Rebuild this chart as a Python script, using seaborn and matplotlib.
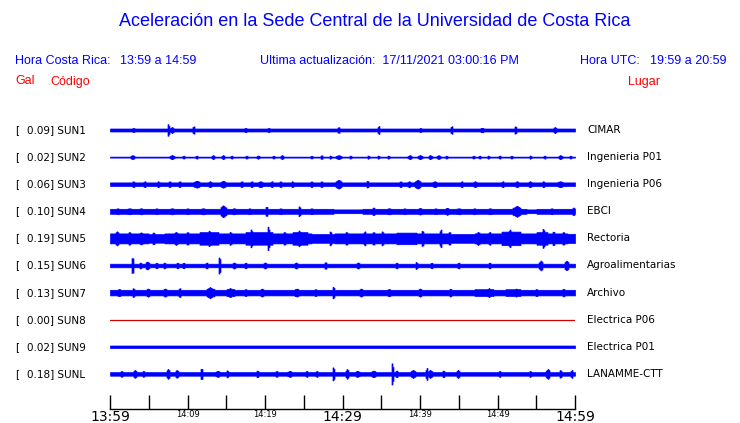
import numpy as np
import pandas as pd
import matplotlib
matplotlib.use("Agg")
import matplotlib.pyplot as plt
import seaborn as sns

# ---------------- data ----------------
codes = ["SUN1", "SUN2", "SUN3", "SUN4", "SUN5", "SUN6", "SUN7", "SUN8", "SUN9", "SUNL"]
peak_gal = [0.09, 0.02, 0.06, 0.10, 0.19, 0.15, 0.13, 0.00, 0.02, 0.18]
places = ["CIMAR", "Ingenieria P01", "Ingenieria P06", "EBCI", "Rectoria",
          "Agroalimentarias", "Archivo", "Electrica P06", "Electrica P01", "LANAMME-CTT"]

# base half-amplitude of each trace (arbitrary units)
base_amp = [1.5, 0.5, 1.8, 2.5, 5.0, 1.8, 2.8, 0.0, 1.3, 1.8]

# segments of different background level: (start min, end min, amplitude)
seg_sun4 = [(28.8, 32.6, 1.9), (53.7, 55.0, 1.9)]
seg_sun5 = [(11.5, 14.0, 6.3), (17.5, 21.0, 6.3), (23.5, 25.5, 6.3), (37.0, 39.5, 5.8),
            (50.5, 53.0, 6.8), (55.0, 56.5, 6.3), (5.0, 7.0, 4.3), (26.0, 29.0, 4.4),
            (44.0, 47.0, 4.4), (59.0, 60.0, 4.6)]
seg_sun7 = [(12.5, 13.5, 3.8), (15.0, 16.0, 3.5), (47.0, 49.5, 3.4), (51.0, 53.0, 3.4)]
segments = [[], [], [], seg_sun4, seg_sun5, [], seg_sun7, [], [], []]

# bursts: (minute after 13:59, half amplitude, duration in minutes)
bur_sun1 = [(7.5, 6, 0.15), (8.0, 3, 0.15), (10.8, 4, 0.15), (17.5, 2.2, 0.3), (29.5, 3, 0.3),
            (34.7, 4, 0.2), (44.1, 4, 0.3), (52.3, 4, 0.15), (57.4, 3, 0.3), (3.0, 2, 0.2),
            (20.5, 2, 0.2), (40.0, 2, 0.2), (48.0, 2.2, 0.3)]
bur_sun2 = [(2.9, 2, 0.6), (8.0, 2, 0.6), (9.5, 1.6, 0.15), (11.2, 1.6, 0.15), (13.3, 2, 0.4),
            (14.6, 2, 0.4), (15.7, 1.6, 0.15), (17.6, 1.6, 0.3), (19.1, 1.6, 0.3), (21.1, 1.6, 0.15),
            (22.2, 2, 0.4), (26.0, 1.6, 0.15), (27.3, 2, 0.3), (28.4, 1.6, 0.15), (29.5, 2, 0.8),
            (31.0, 1.6, 0.15), (33.3, 1.6, 0.15), (34.6, 1.6, 0.15), (35.9, 1.6, 0.15),
            (38.7, 2, 0.5), (40.0, 2, 0.6), (41.3, 2, 0.5), (42.4, 2, 0.5), (43.4, 1.6, 0.15),
            (46.9, 1.6, 0.15), (47.7, 1.6, 0.15), (48.8, 1.6, 0.15), (50.3, 1.6, 0.3),
            (51.8, 1.6, 0.15), (54.2, 1.6, 0.15), (56.1, 1.6, 0.15), (58.1, 2, 0.5), (59.4, 1.6, 0.15)]
bur_sun3 = [(3.0, 3, 0.15), (4.5, 3, 0.15), (6.2, 3, 0.15), (7.7, 3, 0.3), (9.0, 3, 0.3),
            (11.2, 3.5, 0.8), (12.9, 3, 0.3), (14.6, 3.5, 0.6), (17.0, 3, 0.3), (18.3, 3, 0.3),
            (19.4, 3, 0.6), (20.9, 3, 0.15), (22.0, 3, 0.3), (23.5, 3, 0.15), (26.0, 3, 0.15),
            (27.3, 3, 0.3), (29.5, 4.5, 0.8), (33.2, 3.5, 0.3), (37.5, 3, 0.15), (38.6, 3, 0.3),
            (39.7, 4.5, 0.8), (41.9, 3, 0.5), (45.4, 3, 0.15), (47.1, 3, 0.3), (50.7, 3, 0.15),
            (52.5, 3, 0.3), (54.2, 3, 0.3), (55.9, 3, 0.3), (58.1, 3, 0.6)]
bur_sun4 = [(14.6, 6, 0.8), (20.2, 5, 0.3), (24.4, 5, 0.2), (34.0, 4, 0.3), (43.5, 3.5, 0.3),
            (52.5, 5.5, 1.0), (59.8, 4, 0.2), (1.0, 3, 0.3), (2.5, 3, 0.5), (4.0, 3, 0.2),
            (6.0, 3, 0.3), (8.0, 3, 0.4), (10.0, 3, 0.2), (12.0, 3, 0.5), (16.0, 3, 0.3),
            (18.0, 3, 0.3), (22.0, 3, 0.3), (26.0, 3, 0.3), (36.0, 3, 0.5), (38.0, 3, 0.3),
            (40.0, 3.2, 0.5), (42.0, 3, 0.3), (45.0, 3, 0.5), (47.0, 3, 0.3), (49.0, 3, 0.4),
            (57.0, 3, 0.3)]
bur_sun5 = [(0.9, 7, 0.3), (5.6, 6, 0.2), (12.8, 8, 0.2), (18.2, 9, 0.2), (20.4, 12, 0.15),
            (24.4, 8, 0.3), (28.4, 7, 0.2), (32.9, 7, 0.2), (35.1, 7, 0.2), (40.3, 8, 0.2),
            (42.7, 9, 0.2), (51.6, 9, 0.3), (55.9, 10, 0.2), (57.2, 7, 0.2), (58.5, 6.5, 0.2),
            (2.5, 6.5, 0.2), (4.0, 6, 0.2), (8.5, 6.5, 0.3), (10.0, 6.5, 0.2), (15.5, 6.5, 0.2),
            (22.5, 6.5, 0.2), (30.5, 6.5, 0.2), (34.0, 6.5, 0.2), (43.8, 6.5, 0.2),
            (47.5, 6.5, 0.3), (49.0, 6.5, 0.2)]
bur_sun6 = [(2.9, 9, 0.15), (4.8, 4, 0.5), (14.1, 9, 0.15), (3.9, 3, 0.3), (6.0, 3, 0.3),
            (7.0, 3, 0.3), (8.7, 3, 0.2), (9.5, 3, 0.2), (12.5, 3, 0.2), (16.0, 3, 0.2),
            (17.5, 3, 0.2), (20.0, 3, 0.2), (24.0, 3, 0.2), (27.8, 3.5, 0.3), (32.0, 3, 0.2),
            (37.0, 3, 0.2), (39.5, 3.5, 0.2), (41.5, 3, 0.2), (45.0, 3, 0.2), (49.0, 3, 0.2),
            (55.6, 5, 0.5), (58.9, 5, 0.5)]
bur_sun7 = [(3.0, 4.5, 0.2), (4.9, 4, 0.4), (7.1, 4, 0.5), (9.0, 4.5, 0.3), (12.9, 5.5, 0.8),
            (15.5, 4.5, 0.6), (19.6, 4, 0.3), (24.1, 4, 0.5), (28.8, 6, 0.3), (32.4, 4, 0.3),
            (40.0, 4, 0.3), (43.9, 4, 0.3), (48.9, 4.5, 0.3), (52.4, 4, 0.3), (58.5, 4, 0.3),
            (1.2, 3.5, 0.4), (17.5, 3.5, 0.3), (26.5, 3.5, 0.3), (36.0, 3.5, 0.3), (55.0, 3.5, 0.3)]
bur_sun9 = []
bur_sunl = [(1.5, 3, 0.2), (3.2, 4, 0.4), (4.3, 3, 0.15), (7.5, 5, 0.4), (8.6, 4, 0.4),
            (11.8, 6, 0.3), (13.9, 3, 0.5), (15.1, 3.5, 0.15), (19.0, 3.5, 0.15), (21.5, 3, 0.15),
            (23.2, 3, 0.5), (25.4, 3, 0.15), (26.7, 3, 0.15), (28.8, 7, 0.2), (30.6, 5, 0.3),
            (31.9, 3, 0.5), (34.0, 3.5, 0.5), (36.4, 11, 0.15), (37.0, 3.5, 0.15), (39.1, 4, 0.6),
            (40.9, 6, 0.15), (41.3, 4, 0.5), (43.0, 3.5, 0.15), (44.9, 4, 0.3), (50.3, 3, 0.3),
            (54.2, 3, 0.15), (56.5, 5, 0.5), (58.1, 4, 0.3), (59.6, 4, 0.2)]
bursts = [bur_sun1, bur_sun2, bur_sun3, bur_sun4, bur_sun5, bur_sun6, bur_sun7, [], bur_sun9, bur_sunl]

tick_minutes = list(range(0, 61, 5))
tick_texts = ["13:59", "", "14:09", "", "14:19", "", "14:29", "", "14:39", "", "14:49", "", "14:59"]

# ---------------- figure ----------------
sns.set_theme(style="white")
plt.rcParams["font.family"] = ["DejaVu Sans"]

W, H = 740, 423
fig = plt.figure(figsize=(W / 100, H / 100), dpi=100)
fig.patch.set_facecolor("white")

def fx(px):
    return px / W

def fy(py):
    return 1 - py / H

ax_left, ax_right, ax_top, ax_bot = 110, 575, 115, 409
ax = fig.add_axes([fx(ax_left), fy(ax_bot), (ax_right - ax_left) / W, (ax_bot - ax_top) / H])
ax.set_facecolor("white")

row_px = 27.1
first_row = 130
ax.set_xlim(0, 60)
ax.set_ylim((ax_bot - first_row) / row_px, (ax_top - first_row) / row_px)
amp_scale = 1 / row_px

blue = "#0000ff"
t = np.linspace(0, 60, 466)
dt = t[1] - t[0]
for i, code in enumerate(codes):
    if code == "SUN8":
        df = pd.DataFrame({"t": [0, 60], "y": [i, i]})
        sns.lineplot(data=df, x="t", y="y", ax=ax, color="#d00000", lw=0.9)
        continue
    env = np.full_like(t, base_amp[i])
    for (a, b, v) in segments[i]:
        env[(t >= a) & (t <= b)] = v
    for (m, v, w) in bursts[i]:
        half = max(w / 2, dt)
        d = np.abs(t - m)
        mask = d <= half
        if not mask.any():
            mask[np.argmin(d)] = True
        # spindle-shaped burst: peak at centre, tapering to the background
        shape = base_amp[i] + (v - base_amp[i]) * np.clip(1 - d[mask] / (half + dt), 0.35, 1)
        env[mask] = np.maximum(env[mask], shape)
    env = env * amp_scale
    ax.fill_between(t, i - env, i + env, step="mid", color=blue, lw=0.5, edgecolor=blue)

for s in ["top", "left", "right"]:
    ax.spines[s].set_visible(False)
ax.spines["bottom"].set_color("black")
ax.spines["bottom"].set_linewidth(1.0)
ax.set_yticks([])
ax.set_xticks(tick_minutes)
ax.set_xticklabels(tick_texts)
ax.tick_params(axis="x", direction="in", length=10, width=1, colors="black", pad=1, bottom=True)
for lab, txt in zip(ax.get_xticklabels(), tick_texts):
    lab.set_fontsize(10 if txt in ("13:59", "14:29", "14:59") else 6)
ax.set_xlabel("")
ax.set_ylabel("")

# station labels
for i, code in enumerate(codes):
    y = first_row + i * row_px
    fig.text(fx(15), fy(y), "[", fontsize=7.5, color="black", va="center", ha="left")
    fig.text(fx(27), fy(y), f"{peak_gal[i]:.2f}] {code}", fontsize=7.5, color="black",
             va="center", ha="left")
    fig.text(fx(587), fy(y), places[i], fontsize=7.5, color="black", va="center", ha="left")

# title and header
sans = ["Liberation Sans", "DejaVu Sans"]
fig.text(fx(375), fy(22), "Aceleración en la Sede Central de la Universidad de Costa Rica",
         fontsize=13, color=blue, ha="center", va="center", family=sans)
hdr = dict(fontsize=9, color=blue, va="center", ha="left", family=sans)
fig.text(fx(15), fy(61.5), "Hora Costa Rica:", **hdr)
fig.text(fx(120), fy(61.5), "13:59 a 14:59", **hdr)
fig.text(fx(260), fy(61.5), "Ultima actualización:  17/11/2021 03:00:16 PM", **hdr)
fig.text(fx(580), fy(61.5), "Hora UTC:", **hdr)
fig.text(fx(650), fy(61.5), "19:59 a 20:59", **hdr)
red = dict(fontsize=9, color="#ff0000", va="center", ha="left", family=sans)
fig.text(fx(15), fy(81.5), "Gal", **red)
fig.text(fx(50), fy(81.5), "Código", **red)
fig.text(fx(628), fy(81.5), "Lugar", **red)

fig.savefig("out.png", dpi=100, facecolor="white")
